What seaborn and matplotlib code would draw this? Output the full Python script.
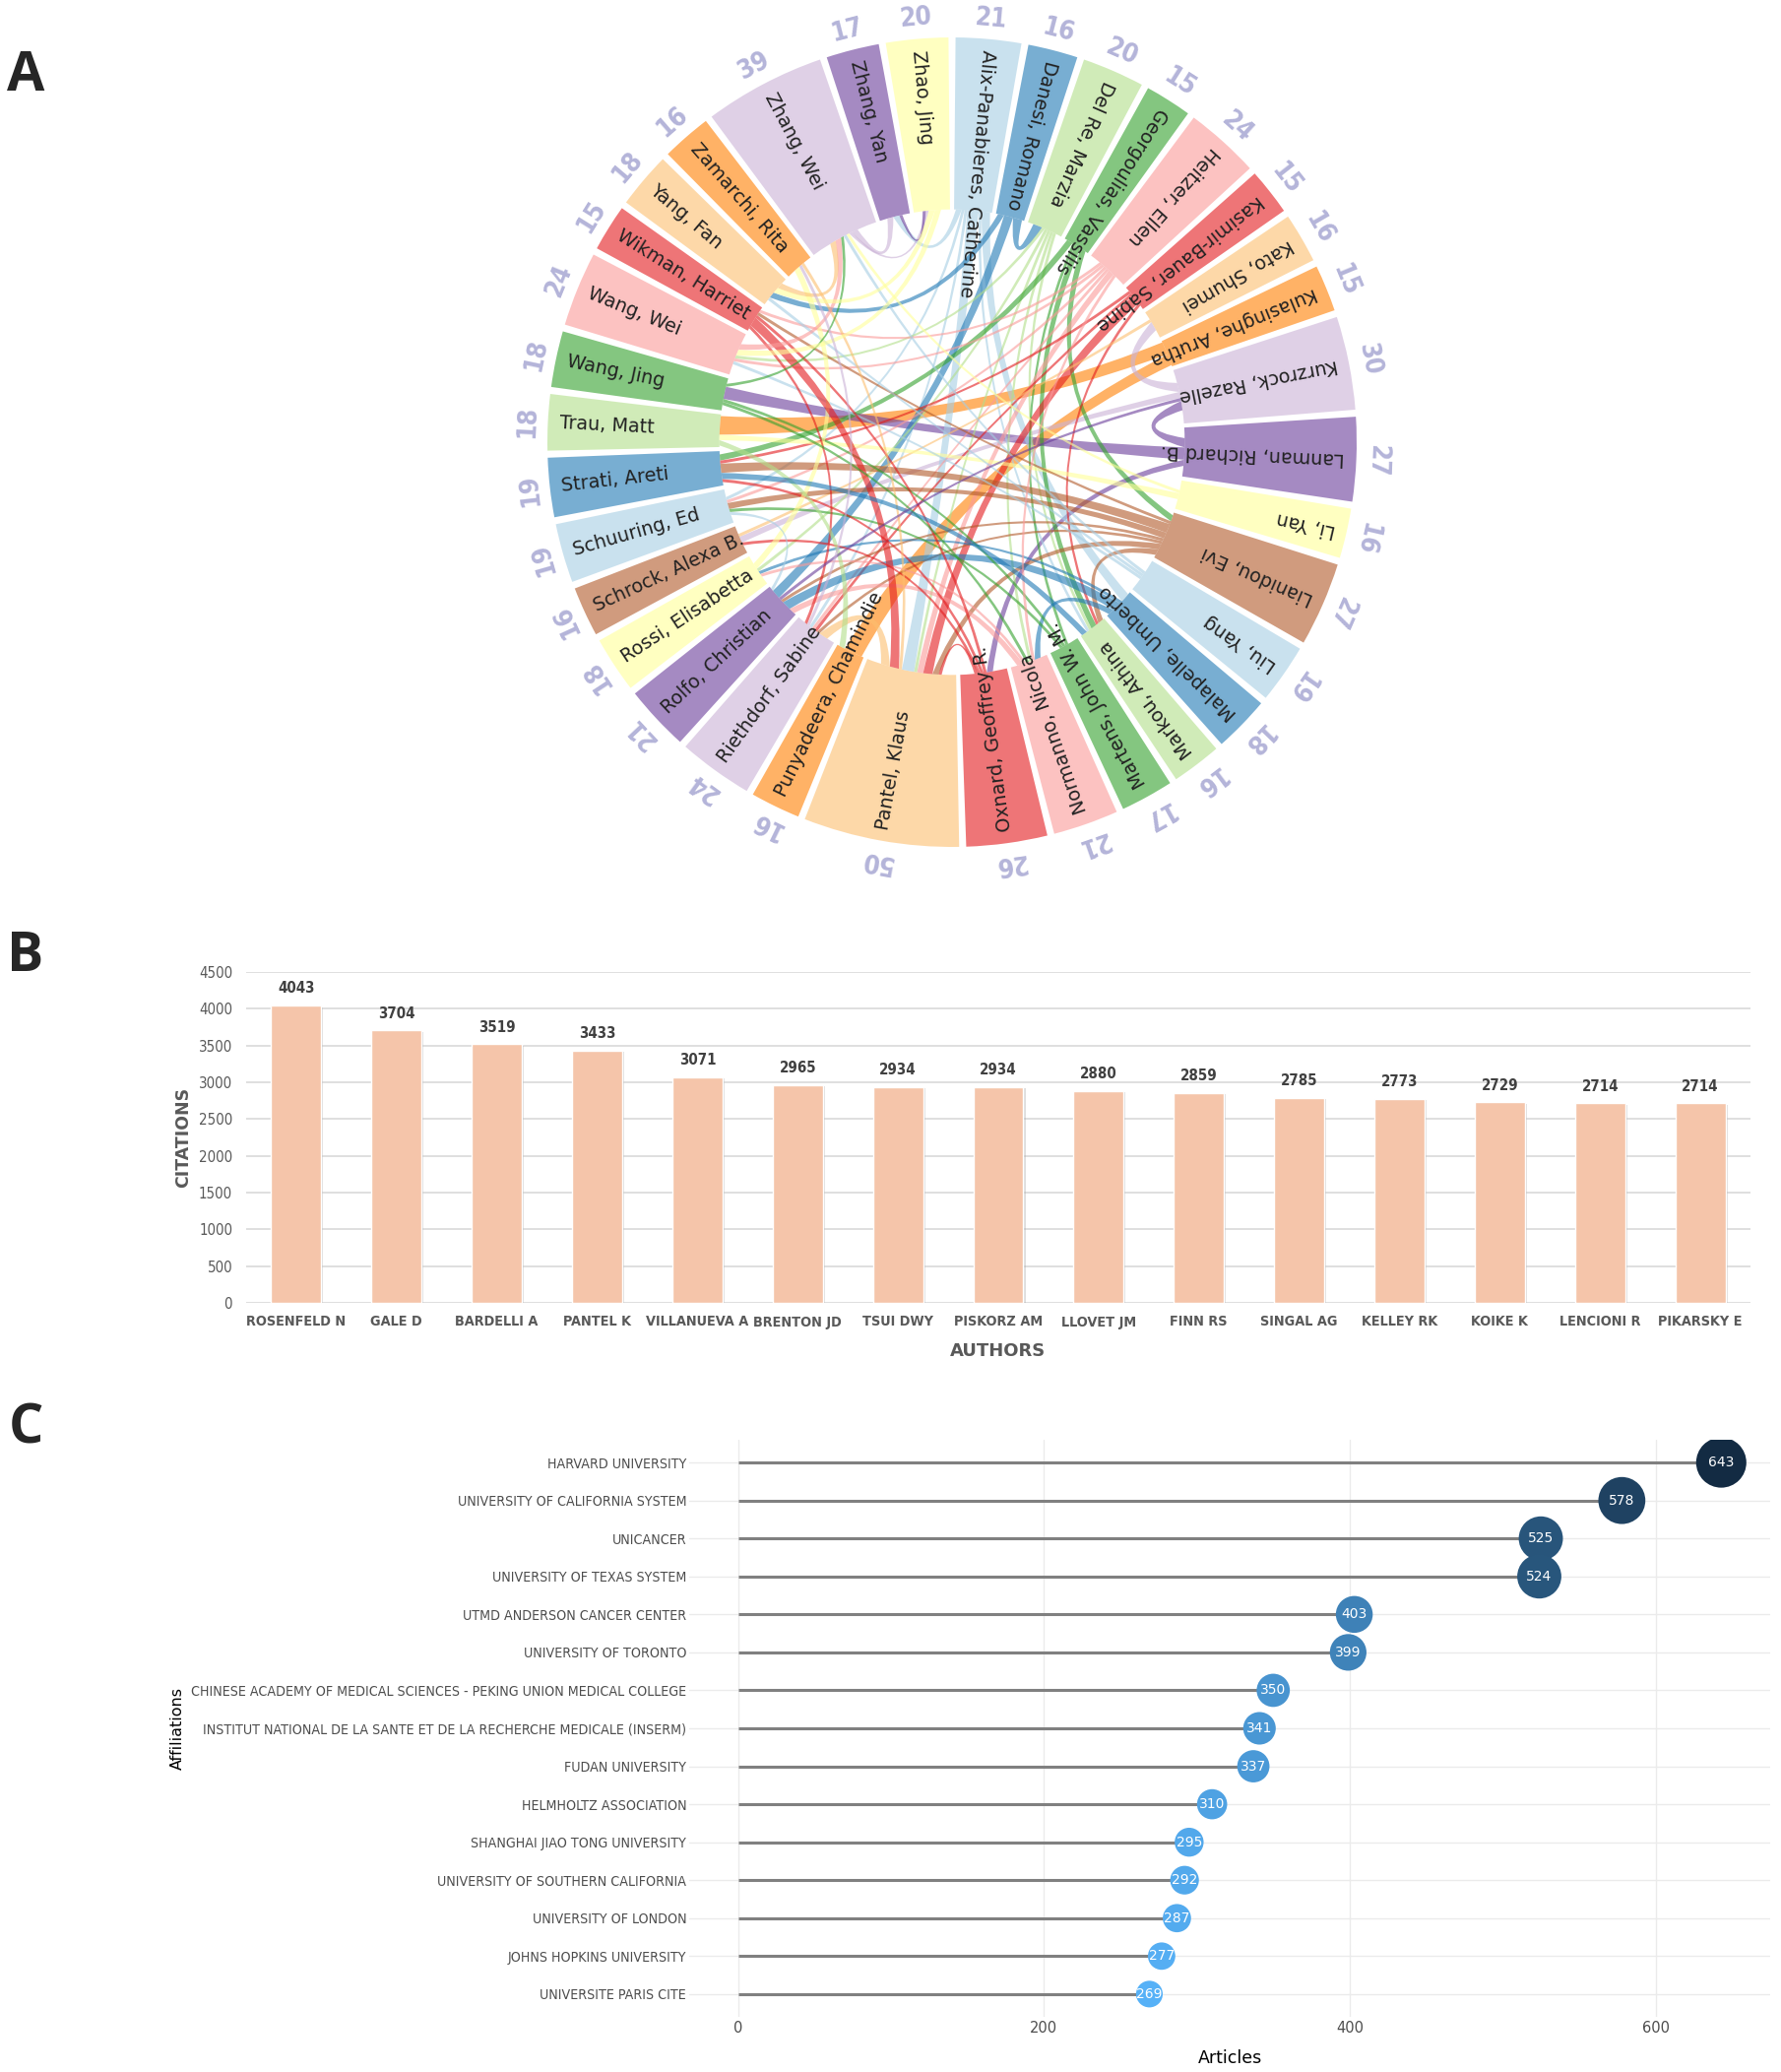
import numpy as np
import pandas as pd
import matplotlib
matplotlib.use("Agg")
import matplotlib.pyplot as plt
import seaborn as sns
from matplotlib import font_manager as fm
from matplotlib.path import Path
from matplotlib.patches import PathPatch, Wedge
from matplotlib import patheffects as pe
from matplotlib.colors import LinearSegmentedColormap

# ---------------- data : panel A (co-authorship chord) ----------------
authors_a = [
    "Alix-Panabieres, Catherine", "Danesi, Romano", "Del Re, Marzia",
    "Georgoulias, Vassilis", "Heitzer, Ellen", "Kasimir-Bauer, Sabine",
    "Kato, Shumei", "Kulasinghe, Arutha", "Kurzrock, Razelle",
    "Lanman, Richard B.", "Li, Yan", "Lianidou, Evi", "Liu, Yang",
    "Malapelle, Umberto", "Markou, Athina", "Martens, John W. M.",
    "Normanno, Nicola", "Oxnard, Geoffrey R.", "Pantel, Klaus",
    "Punyadeera, Chamindie", "Riethdorf, Sabine", "Rolfo, Christian",
    "Rossi, Elisabetta", "Schrock, Alexa B.", "Schuuring, Ed",
    "Strati, Areti", "Trau, Matt", "Wang, Jing", "Wang, Wei",
    "Wikman, Harriet", "Yang, Fan", "Zamarchi, Rita", "Zhang, Wei",
    "Zhang, Yan", "Zhao, Jing",
]
papers_a = [21, 16, 20, 15, 24, 15, 16, 15, 30, 27, 16, 27, 19, 18, 16, 17,
            21, 26, 50, 16, 24, 21, 18, 16, 19, 19, 18, 18, 24, 15, 18, 16,
            39, 17, 20]

# (author, co-author, strength) - colour taken from the first author
links_a = [
    ("Kulasinghe, Arutha", "Trau, Matt", 7),
    ("Kulasinghe, Arutha", "Punyadeera, Chamindie", 6),
    ("Lanman, Richard B.", "Wang, Jing", 4),
    ("Lanman, Richard B.", "Kurzrock, Razelle", 3),
    ("Lanman, Richard B.", "Oxnard, Geoffrey R.", 2),
    ("Kurzrock, Razelle", "Schrock, Alexa B.", 2),
    ("Kurzrock, Razelle", "Kato, Shumei", 3),
    ("Alix-Panabieres, Catherine", "Pantel, Klaus", 4),
    ("Alix-Panabieres, Catherine", "Malapelle, Umberto", 3),
    ("Alix-Panabieres, Catherine", "Riethdorf, Sabine", 1),
    ("Alix-Panabieres, Catherine", "Schuuring, Ed", 1),
    ("Alix-Panabieres, Catherine", "Markou, Athina", 1),
    ("Alix-Panabieres, Catherine", "Zhang, Yan", 2),
    ("Danesi, Romano", "Rolfo, Christian", 3),
    ("Danesi, Romano", "Del Re, Marzia", 3),
    ("Danesi, Romano", "Yang, Fan", 2),
    ("Del Re, Marzia", "Markou, Athina", 1),
    ("Del Re, Marzia", "Normanno, Nicola", 1),
    ("Del Re, Marzia", "Pantel, Klaus", 1),
    ("Del Re, Marzia", "Rossi, Elisabetta", 1),
    ("Del Re, Marzia", "Wang, Wei", 1),
    ("Georgoulias, Vassilis", "Markou, Athina", 2),
    ("Georgoulias, Vassilis", "Strati, Areti", 2),
    ("Georgoulias, Vassilis", "Lianidou, Evi", 2),
    ("Georgoulias, Vassilis", "Martens, John W. M.", 1),
    ("Heitzer, Ellen", "Pantel, Klaus", 2),
    ("Heitzer, Ellen", "Wikman, Harriet", 1),
    ("Heitzer, Ellen", "Schuuring, Ed", 1),
    ("Heitzer, Ellen", "Riethdorf, Sabine", 1),
    ("Heitzer, Ellen", "Wang, Wei", 1),
    ("Kasimir-Bauer, Sabine", "Pantel, Klaus", 3),
    ("Kasimir-Bauer, Sabine", "Riethdorf, Sabine", 1),
    ("Kasimir-Bauer, Sabine", "Strati, Areti", 1),
    ("Kasimir-Bauer, Sabine", "Markou, Athina", 1),
    ("Kato, Shumei", "Schrock, Alexa B.", 1),
    ("Li, Yan", "Zhang, Wei", 1),
    ("Li, Yan", "Trau, Matt", 2),
    ("Lianidou, Evi", "Strati, Areti", 3),
    ("Lianidou, Evi", "Markou, Athina", 2),
    ("Lianidou, Evi", "Schuuring, Ed", 2),
    ("Lianidou, Evi", "Pantel, Klaus", 2),
    ("Lianidou, Evi", "Riethdorf, Sabine", 1),
    ("Lianidou, Evi", "Wikman, Harriet", 1),
    ("Lianidou, Evi", "Rolfo, Christian", 1),
    ("Liu, Yang", "Zhang, Wei", 1),
    ("Liu, Yang", "Wang, Wei", 1),
    ("Liu, Yang", "Yang, Fan", 1),
    ("Malapelle, Umberto", "Rolfo, Christian", 3),
    ("Malapelle, Umberto", "Normanno, Nicola", 2),
    ("Malapelle, Umberto", "Rossi, Elisabetta", 1),
    ("Martens, John W. M.", "Schuuring, Ed", 1),
    ("Martens, John W. M.", "Wang, Jing", 1),
    ("Normanno, Nicola", "Rolfo, Christian", 2),
    ("Normanno, Nicola", "Heitzer, Ellen", 1),
    ("Normanno, Nicola", "Rossi, Elisabetta", 1),
    ("Oxnard, Geoffrey R.", "Pantel, Klaus", 1),
    ("Oxnard, Geoffrey R.", "Schrock, Alexa B.", 1),
    ("Oxnard, Geoffrey R.", "Wikman, Harriet", 1),
    ("Oxnard, Geoffrey R.", "Strati, Areti", 1),
    ("Pantel, Klaus", "Riethdorf, Sabine", 3),
    ("Pantel, Klaus", "Zamarchi, Rita", 1),
    ("Rossi, Elisabetta", "Zamarchi, Rita", 2),
    ("Wikman, Harriet", "Pantel, Klaus", 3),
    ("Wikman, Harriet", "Riethdorf, Sabine", 1),
    ("Wang, Jing", "Normanno, Nicola", 1),
    ("Wang, Jing", "Zhang, Wei", 1),
    ("Wang, Wei", "Zhang, Wei", 2),
    ("Zhao, Jing", "Wang, Wei", 2),
    ("Yang, Fan", "Zhang, Wei", 2),
    ("Zhang, Wei", "Zhang, Yan", 2),
    ("Zhang, Wei", "Zhao, Jing", 1),
    ("Zhang, Yan", "Zhao, Jing", 1),
    ("Zhao, Jing", "Yang, Fan", 2),
    ("Trau, Matt", "Punyadeera, Chamindie", 2),
    ("Schuuring, Ed", "Rolfo, Christian", 1),
    ("Strati, Areti", "Markou, Athina", 2),
    ("Rolfo, Christian", "Kurzrock, Razelle", 1),
    ("Riethdorf, Sabine", "Zamarchi, Rita", 1),
]

# ---------------- data : panel B (citations) ----------------
authors_b = ["ROSENFELD N", "GALE D", "BARDELLI A", "PANTEL K", "VILLANUEVA A",
             "BRENTON JD", "TSUI DWY", "PISKORZ AM", "LLOVET JM", "FINN RS",
             "SINGAL AG", "KELLEY RK", "KOIKE K", "LENCIONI R", "PIKARSKY E"]
citations_b = [4043, 3704, 3519, 3433, 3071, 2965, 2934, 2934, 2880, 2859,
               2785, 2773, 2729, 2714, 2714]

# ---------------- data : panel C (affiliations) ----------------
affiliations = [
    "HARVARD UNIVERSITY", "UNIVERSITY OF CALIFORNIA SYSTEM", "UNICANCER",
    "UNIVERSITY OF TEXAS SYSTEM", "UTMD ANDERSON CANCER CENTER",
    "UNIVERSITY OF TORONTO",
    "CHINESE ACADEMY OF MEDICAL SCIENCES - PEKING UNION MEDICAL COLLEGE",
    "INSTITUT NATIONAL DE LA SANTE ET DE LA RECHERCHE MEDICALE (INSERM)",
    "FUDAN UNIVERSITY", "HELMHOLTZ ASSOCIATION", "SHANGHAI JIAO TONG UNIVERSITY",
    "UNIVERSITY OF SOUTHERN CALIFORNIA", "UNIVERSITY OF LONDON",
    "JOHNS HOPKINS UNIVERSITY", "UNIVERSITE PARIS CITE",
]
articles = [643, 578, 525, 524, 403, 399, 350, 341, 337, 310, 295, 292, 287,
            277, 269]

sns.set_theme(style="white")
plt.rcParams['font.family'] = ['DejaVu Sans']

# pick a narrow face if one is installed
installed = {(f.name, f.stretch) for f in fm.fontManager.ttflist}
names = {nm for nm, _ in installed}
if 'Liberation Sans Narrow' in names:
    NARROW = dict(family='Liberation Sans Narrow')
    nk = 1.0
elif ('DejaVu Sans', 'condensed') in installed:
    NARROW = dict(family='DejaVu Sans', stretch='condensed')
    nk = 0.9
else:
    NARROW = dict(family='DejaVu Sans')
    nk = 0.8

W, H = 1809, 2104
fig = plt.figure(figsize=(W / 100, H / 100), dpi=100)


def px_axes(x0, y0, x1, y1):
    return fig.add_axes([x0 / W, 1 - y1 / H, (x1 - x0) / W, (y1 - y0) / H])


# ================= A : chord diagram =================
cx, cy, R = 967, 449, 411
ext = 1.15
axA = px_axes(cx - ext * R, cy - ext * R, cx + ext * R, cy + ext * R)
axA.set_xlim(-ext, ext)
axA.set_ylim(-ext, ext)
axA.axis('off')

pal = sns.color_palette("Paired", 12)
n = len(authors_a)
gap = 1.0
unit = (360 - n * gap) / sum(papers_a)
r0 = 0.575

starts, mids = [], []
a = 90 - gap / 2
for c in papers_a:
    starts.append(a)
    mids.append(a - c * unit / 2)
    a -= c * unit + gap

for i, c in enumerate(papers_a):
    axA.add_patch(Wedge((0, 0), 1, starts[i] - c * unit, starts[i], width=1 - r0,
                        facecolor=pal[i % 12], alpha=0.6, lw=0))

idx = {name: i for i, name in enumerate(authors_a)}
node_ends = {i: [] for i in range(n)}
for k, (s, t, w) in enumerate(links_a):
    node_ends[idx[s]].append((k, idx[t], w))
    node_ends[idx[t]].append((k, idx[s], w))

spans = {}
for i, lst in node_ends.items():
    if not lst:
        continue
    lst.sort(key=lambda e: -((mids[i] - mids[e[1]]) % 360))
    tot = sum(e[2] for e in lst) * 1.7
    scale = 1.7 * min(1.0, 0.9 * papers_a[i] / tot)
    pos = mids[i] + sum(e[2] for e in lst) * scale * unit / 2
    for k, j, w in lst:
        width = w * scale * unit
        spans[(k, i)] = (pos, pos - width)
        pos -= width


def arc(a1, a2, r=r0, num=16):
    t = np.radians(np.linspace(a1, a2, num))
    return np.column_stack([r * np.cos(t), r * np.sin(t)])


def ctrl(a1, a2):
    p = arc(a1, a1, num=1)[0] + arc(a2, a2, num=1)[0]
    d = abs((a1 - a2 + 180) % 360 - 180)
    nrm = np.hypot(*p)
    if nrm < 1e-6:
        return np.zeros(2)
    return p / nrm * r0 * 0.8 * (1 - d / 180) ** 1.5


for k, (s, t, w) in enumerate(links_a):
    i, j = idx[s], idx[t]
    a1, a2 = spans[(k, i)]
    b1, b2 = spans[(k, j)]
    pa = arc(a1, a2)
    pb = arc(b1, b2)
    c1 = ctrl(a2, b1)
    c2 = ctrl(b2, a1)
    verts = list(pa) + [c1, pb[0]] + list(pb[1:]) + [c2, pa[0], pa[0]]
    codes = ([Path.MOVETO] + [Path.LINETO] * (len(pa) - 1) + [Path.CURVE3] * 2 +
             [Path.LINETO] * (len(pb) - 1) + [Path.CURVE3] * 2 + [Path.CLOSEPOLY])
    axA.add_patch(PathPatch(Path(verts, codes), facecolor=pal[i % 12],
                            alpha=0.6, lw=0))

for i, name in enumerate(authors_a):
    m = mids[i]
    t = np.radians(m)
    axA.text(0.972 * np.cos(t), 0.972 * np.sin(t), name, rotation=m + 180,
             rotation_mode='anchor', ha='left', va='center', fontsize=13.8,
             color='#222222')
    axA.text(1.05 * np.cos(t), 1.05 * np.sin(t), str(papers_a[i]),
             rotation=m - 90, rotation_mode='anchor', ha='center', va='center',
             fontsize=21 * nk, fontweight='bold', color='#b4b4d9', **NARROW)

# ================= B : citations bar chart =================
axB = px_axes(250, 987, 1778, 1323)
sns.barplot(x=authors_b, y=citations_b, color='#f5c5aa', saturation=1,
            width=0.5, ax=axB)
axB.set_ylim(0, 4500)
axB.set_yticks(range(0, 4501, 500))
axB.grid(axis='y', color='#d9d9d9', lw=1.2)
axB.set_axisbelow(True)
for sp in axB.spines.values():
    sp.set_visible(False)
for p in axB.patches:
    p.set_path_effects([pe.SimplePatchShadow(offset=(1.5, -1.0),
                                             shadow_rgbFace='#a0a0a0', alpha=0.35),
                        pe.Normal()])
axB.bar_label(axB.containers[0], labels=[str(v) for v in citations_b], padding=7,
              fontsize=12 * nk, fontweight='bold', color='#404040', **NARROW)
axB.tick_params(axis='both', length=0)
axB.tick_params(axis='y', pad=10)
axB.tick_params(axis='x', pad=9)
for lab in axB.get_yticklabels():
    lab.set_fontfamily(NARROW['family'])
    lab.set_fontstretch(NARROW.get('stretch', 'normal'))
    lab.set_fontsize(12 * nk)
    lab.set_color('#595959')
for lab in axB.get_xticklabels():
    lab.set_fontfamily(NARROW['family'])
    lab.set_fontstretch(NARROW.get('stretch', 'normal'))
    lab.set_fontsize(11.5 * nk if nk > 0.85 else 9.5)
    lab.set_fontweight('bold')
    lab.set_color('#595959')
axB.set_xlabel('AUTHORS', fontsize=13, fontweight='bold', color='#595959')
axB.set_ylabel('CITATIONS', fontsize=12.5, fontweight='bold', color='#595959')
axB.xaxis.set_label_coords(0.5, -0.12)
axB.yaxis.set_label_coords(-0.036, 0.5)

# ================= C : affiliations lollipop =================
axC = px_axes(700, 1462, 1798, 2048)
df = pd.DataFrame({'aff': affiliations, 'n': articles})
axC.hlines(y=df['aff'], xmin=0, xmax=df['n'], color='#808080', lw=2.2, zorder=2)
cmap = LinearSegmentedColormap.from_list('gg', ['#56B1F7', '#132B43'])
sns.scatterplot(data=df, x='n', y='aff', hue='n', size='n', palette=cmap,
                sizes=(380, 1350), legend=False, linewidth=0, ax=axC, zorder=3)
for aff, v in zip(affiliations, articles):
    axC.text(v, aff, str(v), color='white', ha='center', va='center',
             fontsize=10, zorder=4)
axC.set_xlim(-32, 675)
axC.set_ylim(len(affiliations) - 0.4, -0.6)
axC.set_xticks([0, 200, 400, 600])
axC.grid(True, color='#ebebeb', lw=1)
axC.set_axisbelow(True)
for sp in axC.spines.values():
    sp.set_visible(False)
axC.tick_params(axis='both', length=0, labelcolor='#4d4d4d')
axC.tick_params(axis='x', pad=3, labelsize=10.5)
axC.tick_params(axis='y', pad=2)
for lab in axC.get_yticklabels():
    lab.set_fontfamily(NARROW['family'])
    lab.set_fontstretch(NARROW.get('stretch', 'normal'))
    lab.set_fontsize(11 if nk == 1.0 else (10.2 if nk > 0.85 else 9.2))
axC.set_xlabel('Articles', fontsize=12.5, color='black')
axC.set_ylabel('Affiliations', fontsize=11.5, color='black')
axC.xaxis.set_label_coords(0.5, -0.056)
axC.yaxis.set_label_coords(-0.466, 0.5)

# panel letters
for letter, y in [('A', 78), ('B', 972), ('C', 1451)]:
    fig.text(26 / W, 1 - y / H, letter, fontsize=40, fontweight='bold',
             family=['Open Sans', 'DejaVu Sans'], ha='center', va='center')

fig.savefig('out.png', dpi=100)
